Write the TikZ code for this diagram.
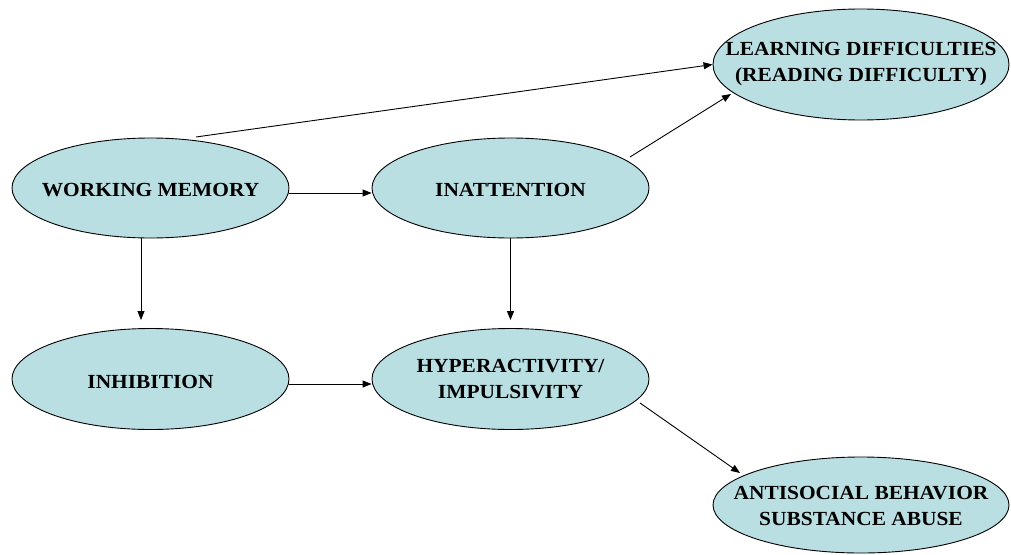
\documentclass[tikz,border=0pt]{standalone}
\usepackage{fontspec}
\setmainfont{Liberation Serif}[FakeStretch=1.07]
\usetikzlibrary{shapes.geometric,arrows.meta,calc}
\definecolor{ellfill}{RGB}{186,223,227}
\begin{document}
\begin{tikzpicture}[x=1pt,y=-1pt,
  ell/.style={ellipse,draw=black,line width=0.9pt,fill=ellfill,inner sep=0pt},
  lab/.style={font=\fontsize{20}{26}\selectfont\bfseries,align=center,text=black},
  arr/.style={line width=0.9pt,-{Triangle[length=9pt,width=7pt]}}]
\useasboundingbox (0,0) rectangle (1011,554);
% ellipses
\node[ell,minimum width=277pt,minimum height=100pt] (wm) at (150.5,188) {};
\node[ell,minimum width=277pt,minimum height=100pt] (inat) at (510.5,188) {};
\node[ell,minimum width=296pt,minimum height=111pt] (ld) at (861,64.5) {};
\node[ell,minimum width=277pt,minimum height=101pt] (inh) at (150.5,379) {};
\node[ell,minimum width=277pt,minimum height=101pt] (hyp) at (510.5,379) {};
\node[ell,minimum width=296pt,minimum height=96pt] (anti) at (861,505) {};
% labels
\node[lab] (wmt) at ($(wm.center)+(0,2)$) {WORKING MEMORY};
\node[lab] (inatt) at ($(inat.center)+(0,2)$) {INATTENTION};
\node[lab] (ldt) at ($(ld.center)+(0,0)$) {LEARNING DIFFICULTIES\\(READING DIFFICULTY)};
\node[lab] (inht) at ($(inh.center)+(0,3)$) {INHIBITION};
\node[lab] (hypt) at ($(hyp.center)+(0,0)$) {HYPERACTIVITY/\\IMPULSIVITY};
\node[lab] (antit) at ($(anti.center)+(0,1)$) {ANTISOCIAL BEHAVIOR\\SUBSTANCE ABUSE};
% connectors
\draw[arr] ($(wm.center)+(45.5,-51)$) -- (ld.west);
\draw[arr] ($(inat.center)+(119.5,-31)$) -- ($(ld.center)+(-130,29.5)$);
\draw[arr] ($(wm.east)+(0,5)$) -- ($(inat.west)+(0,5)$);
\draw[arr] ($(wm.south)+(-9.5,0)$) -- ($(inh.north)+(-9.5,-8)$);
\draw[arr] (inat.south) -- ($(hyp.north)+(0,-8)$);
\draw[arr] ($(inh.east)+(0,5)$) -- ($(hyp.west)+(0,5)$);
\draw[arr] ($(hyp.center)+(129.5,24)$) -- ($(anti.center)+(-121,-32)$);
\end{tikzpicture}
\end{document}
